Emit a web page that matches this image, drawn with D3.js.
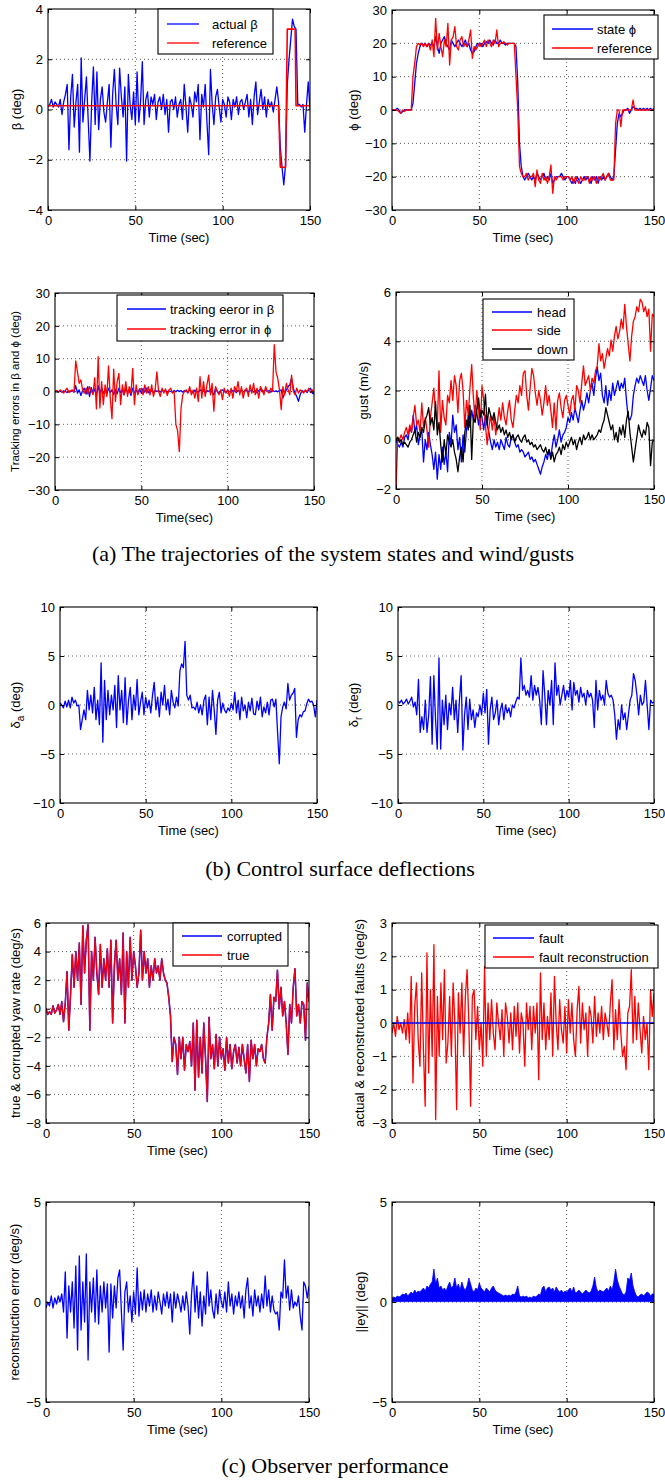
<!DOCTYPE html>
<html lang="en">
<head>
<meta charset="UTF-8">
<title>Observer performance figure</title>
<script src="https://cdn.jsdelivr.net/npm/d3@7"></script>
<style>
  body { margin: 0; background: #fff; }
  svg text { font-family: 'Liberation Sans', Arial, sans-serif; }
  .grid { stroke: #333; stroke-width: 0.8; stroke-dasharray: 1 3; }
  .caption { font-family: 'Liberation Serif', 'Times New Roman', serif !important; font-size: 22px; }
</style>
</head>
<body>
<svg></svg>
<script>
const width = 665, height = 1480;

// time axis is one sample per second, 0..150
const timeTicks = [0, 50, 100, 150];

// (a) sideslip beta
const betaActual = [0.1,0.2,0.4,0.1,0.3,0.2,0.1,0.4,-0.2,0.3,
  0.6,1.0,-1.6,0.5,1.4,-0.7,0.3,1.0,-1.7,2.05,
  -0.5,0.4,1.3,-0.4,-2.05,0.3,1.7,-0.6,1.5,-0.8,
  0.4,0.9,-0.1,-0.5,0.3,1.0,-1.5,0.6,1.6,0.2,
  -0.6,1.65,0.5,-0.3,0.9,-2.05,1.4,0.2,-0.4,0.7,
  -0.6,1.5,-0.5,0.3,1.9,-0.6,0.4,0.7,-0.3,0.5,
  0.2,0.6,-0.4,0.3,0.5,0.0,0.6,-0.2,0.4,-0.9,
  0.3,0.4,0.0,0.5,-0.3,0.2,0.4,-0.4,1.0,0.1,
  -0.9,0.5,0.2,-0.3,0.7,0.3,1.0,-1.2,0.6,0.1,
  1.0,-0.5,-1.8,1.6,0.2,-0.6,0.5,0.8,0.1,-0.5,
  0.4,0.2,-0.3,0.5,0.3,-0.4,0.4,0.1,0.5,-0.2,
  0.3,0.4,0.0,0.3,0.6,-0.3,0.4,-0.6,0.5,1.1,
  -0.2,0.3,0.8,0.0,0.5,-0.3,0.4,0.1,0.3,-0.1,
  0.4,0.9,0.3,-1.5,-2.3,-3.0,-2.2,1.0,2.0,2.8,
  3.6,3.3,3.2,0.2,0.2,0.1,0.2,-0.9,0.2,1.1,
  0.0];
const betaRefTimes = [0, 132, 133, 136, 137, 141.5, 142, 150];
const betaRefValues = [0.15, 0.15, -2.3, -2.3, 3.2, 3.2, 0.15, 0.15];

// (a) bank angle phi
const phiState = [0,0,0,0.5,0,-1,-0.5,0,0,0,
  0,0,2,8,14,17,19,20,19.5,20,
  19,20,19.5,20,19,22,19,17,20,21,
  22,20,19,18,21,20,19,20,21,20,
  19,20,21,19,20,18,17,17.5,19,20,
  19.5,20,19,20,20.5,20,21,20,19.5,21,
  20,20,21,20,20,19.5,20,20,20,20,
  20,19,8,-10,-17,-20,-21,-20,-19,-20,
  -21,-20,-21,-19,-20,-21,-20,-19,-21,-20,
  -21,-19,-22,-21,-20,-20,-20,-19,-20,-21,
  -20,-20,-21,-22,-21,-22,-20,-21,-22,-21,
  -20,-21,-20,-21,-22,-20,-21,-20,-22,-20,
  -21,-20,-21,-20,-19,-20,-21,-20,-12,-4,
  -1,-2,-1,0,0,0.5,-1,0,1,0.5,
  0.5,0,0.5,0,0.5,0,0.5,0,0.5,0,
  0.5];
const phiRef = [0,0,0,0,-0.5,-1,0,-0.5,0,0,
  0,0,10,14,19,20,19.5,20,19,20,
  19,20,18,21,16,27.5,18,23,19,16,
  21,19,26,13.5,21,22,25,19,18,21,
  22,19,20,19,21,24,15.5,19,18,19,
  20,19,20,21,19,21,20,19,21,20,
  24,19,20,20,20.5,20,19.5,20,20,20,
  20,10,0,-17,-19,-20,-20,-19,-21,-20,
  -20,-19,-23,-18,-21,-22,-19,-21,-20,-22,
  -20,-16.5,-25,-20,-21,-20,-20,-20,-21,-20,
  -20,-20,-21,-20,-22,-20,-21,-22,-20,-21,
  -21,-20,-20,-22,-20,-21,-20,-22,-20,-21,
  -20,-19,-21,-20,-19,-21,-21,-21,-4,0,
  0,-5,0,0,0,0,0,0,3,0,
  0,0,0,0,0,0,0,0,0,0,
  0];

// (a) tracking errors
const trackErrBeta = [0,0.2,-0.1,0.1,-0.2,0.2,0,-0.3,0.2,-0.1,
  0.3,-0.2,1.8,-0.5,0.5,-1.2,0.3,1.0,-0.8,1.5,
  -1.5,1.2,-0.5,0.8,-1.3,1.8,-0.7,1.0,-0.6,0.5,
  -0.8,1.0,-0.3,0.5,-0.9,0.6,-0.7,1.0,-0.4,0.5,
  -1.0,0.9,-0.3,0.4,-1.2,1.0,-0.5,0.3,-0.4,0.8,
  -0.5,0.9,-0.2,1.0,-0.4,0.5,0.2,-0.3,0.4,0,
  0.3,-0.2,0.4,0,0.3,-0.3,0.2,0,-0.2,0.3,
  -0.1,0.4,0,0.3,-0.2,0.3,0,-0.3,0.6,0,
  -0.5,0.4,0,-0.2,0.5,0.2,0.7,-0.7,0.3,0,
  0.6,-0.3,-1.0,1.0,0,-0.4,0.3,0.5,0,-0.3,
  0.3,0,-0.2,0.3,0.2,-0.3,0.3,0,0.3,-0.1,
  0.2,0.3,0,0.2,0.4,-0.2,0.3,-0.4,0.3,0.7,
  -0.1,0.2,0.5,0,0.3,-0.2,0.3,0,0.2,-0.1,
  0.3,0.5,-2.0,-0.5,0.5,1.5,2.0,4.0,1.0,-0.5,
  -1.5,-3.0,-1.0,0.3,0,0.2,-0.3,0.5,1.0,-0.5,
  -0.8];
const trackErrPhi = [0,0.3,-0.2,0.5,0,-0.5,0.3,1.0,-0.3,0.2,
  0.5,-0.2,9.3,6.0,2.5,3.5,0.5,-0.5,1.0,-0.8,
  1.5,0.2,-1.0,4.2,-5.3,10.6,-5.0,3.0,-4.0,2.0,
  -1.5,7.8,-2.0,-8.3,6.8,-3.0,3.0,5.5,-4.0,2.0,
  -1.0,3.0,-1.5,1.5,-0.5,7.0,-4.0,2.0,-1.0,0.5,
  1.0,-1.0,2.0,-0.5,1.5,-1.0,2.0,-1.5,0.5,6.0,
  0,-1.5,1.0,-0.5,0.8,-1.2,0.5,1.0,-0.5,0,
  -10,-12,-18.3,-5,-1,0,0.5,-0.5,1.5,-1.0,
  0.5,-2.0,1.0,-3.0,4.5,-2.0,3.0,-1.5,2.0,5.0,
  -1.0,2.5,-6.0,1.5,0,-1.0,0.5,-2.5,1.0,-0.5,
  0.5,-1.5,1.0,-2.0,1.5,0,3.0,-1.0,1.5,-2.0,
  0.5,1.0,-1.5,2.0,-0.5,2.5,-1.0,1.0,-2.0,1.5,
  0.5,-1.0,1.5,0,-0.5,1.0,0,14.3,6.0,4.0,
  0.5,-5.5,1.5,-1.0,2.5,0.5,-1.0,5.0,0,-1.0,
  1.0,-0.5,0.5,0,-0.5,0.5,0,1.0,-0.3,0.5,
  -0.5];

// (a) wind gusts
const gustHead = [0,-0.2,-0.3,-0.1,-0.3,0.1,0.2,0.0,0.5,0.3,
  1.0,0.3,0.6,-0.2,0.2,0.4,-0.9,0,-0.4,0.3,
  -0.2,-0.6,-1.2,-0.5,-1.6,-0.6,-1.2,-0.3,-1.0,-0.5,
  -1.3,0.3,-0.2,1.0,0.3,0.6,-0.4,0.1,-0.9,0.2,
  -0.5,0.4,1.0,0.5,1.2,0.8,1.4,1.1,0.6,1.2,
  0.9,0.4,1.0,0.6,0.3,-0.1,-0.4,0,-0.3,-0.1,
  -0.4,0,-0.2,-0.4,0.1,-0.2,-0.3,0.1,0.2,-0.1,
  -0.3,-0.2,-0.5,-0.4,-0.5,-0.7,-0.6,-0.5,-0.8,-0.7,
  -0.9,-0.8,-1.0,-1.2,-1.4,-1.1,-0.9,-0.6,-0.8,-0.4,
  -0.7,-0.2,0.2,-0.3,0,0.4,-0.1,0.2,0.3,0.5,
  0.9,0.7,1.1,0.8,1.3,1.0,0.7,1.2,1.6,1.2,
  1.5,1.9,1.5,2.0,2.3,1.8,2.5,2.95,2.4,2.7,
  1.8,1.5,2.2,1.4,2.0,1.6,2.3,1.8,2.1,2.4,
  2.0,2.3,2.1,2.5,1.6,0.9,0.8,1.0,1.8,2.2,
  2.5,2.3,2.6,2.4,2.2,2.6,2.0,1.6,2.1,2.6,
  2.4];
const gustSide = [-2,0.1,0,0.2,0,0.3,0.5,0.2,0.6,0.3,
  0.9,1.4,0.6,0.8,0.3,1.5,0.5,0.9,0.4,-0.3,
  0.9,1.5,2.1,1.1,0.5,2.8,0.3,1.6,0.9,0.6,
  1.8,1.5,2.4,1.6,2.6,2.2,1.1,2.4,2.7,2.0,
  0.5,1.6,1.0,2.1,3.05,1.7,0.8,2.0,1.2,0.4,
  2.2,1.6,0.6,-0.2,0.5,1.0,0.4,1.0,0.2,0.7,
  1.3,0.8,1.5,0.9,0.6,1.2,1.6,0.8,0.5,1.2,
  1.8,1.5,2.2,1.8,2.7,2.8,1.8,1.2,2.1,2.9,
  2.6,1.9,1.4,2.0,1.6,1.0,1.5,2.2,1.4,1.8,
  1.2,0.5,1.5,0.4,1.6,1.9,1.3,0.9,1.6,1.8,
  1.4,1.0,1.6,1.8,1.2,2.2,2.0,1.5,2.3,3.0,
  2.2,2.4,2.6,2.0,2.5,2.3,2.8,3.0,3.9,3.2,
  3.5,2.9,3.3,3.7,3.4,4.05,3.6,4.2,4.6,4.1,
  4.4,4.9,4.5,5.5,4.6,3.9,3.2,4.2,4.8,5.0,
  5.4,5.2,5.7,5.6,5.2,5.4,5.0,5.3,3.6,5.1,
  5.0];
const gustDown = [0,0.1,-0.1,0,-0.2,-0.1,-0.2,-0.3,-0.1,0,
  0.2,0.4,-0.1,0.3,0.1,0.5,0.3,0.8,1.0,1.3,
  0.6,0.9,0.4,1.55,0.2,0.7,-0.2,-0.9,0,-0.6,
  0.2,-0.1,-0.3,0,-0.5,-0.8,-1.3,-0.7,-0.3,-0.9,
  0.3,0.8,0.4,1.4,-0.8,0.9,0.7,1.2,1.7,0.9,
  1.2,1.0,1.85,0.6,1.3,1.0,0.8,1.1,0.7,0.4,
  0.6,0.3,0.5,0.2,0.4,0.1,0.3,0,0.2,-0.1,
  0.1,0.2,0,-0.1,0.1,0.2,-0.1,0,-0.2,-0.1,
  -0.3,-0.2,-0.4,-0.3,-0.2,-0.4,-0.5,-0.3,-0.6,-0.4,
  -0.8,-0.5,-0.9,-0.6,-0.5,-0.3,-0.6,-0.2,-0.4,-0.1,
  -0.3,-0.1,0.1,-0.2,0,-0.4,-0.1,0.1,-0.2,0.2,
  0,0.1,0.3,0,0.2,0,0.1,0.2,0.4,0.3,
  0.6,0.8,1.3,1.0,0.7,0.4,0.6,0,0.3,-0.1,
  0.5,0.2,0.6,0.1,0.8,1.15,0.3,-0.3,-0.9,-0.4,
  0.1,0.6,0.3,0.1,0.4,0.2,0.7,0.5,-1.05,-0.1,
  0];

// (b) control surface deflections
const deltaA = [0.2,0,-0.3,0.4,-0.2,0.5,-0.3,0.8,0.2,0.5,
  -0.1,0,-2.5,-1.5,-0.5,-1.5,1.5,-0.5,1.0,-0.8,
  1.8,-1.5,0.5,-2.0,4.3,-3.8,2.5,-1.5,1.5,-1.0,
  1.0,-0.5,2.0,-2.3,3.0,-0.5,1.5,-1.8,2.8,-2.0,
  0.5,1.8,-1.5,1.0,-0.5,2.6,-1.0,0.3,1.3,-1.0,
  0.8,-0.3,0.5,-0.8,1.0,2.3,-0.5,0.8,-1.2,1.3,
  0,2.0,-0.5,0.6,-1.0,1.5,0.3,-0.3,0.8,-0.1,
  3.5,4.2,3.8,6.5,1.0,0.5,1.0,-0.3,-0.2,-0.5,
  0.3,-0.8,0,-1.0,0.5,1.0,-2.0,0.8,-1.5,1.5,
  -0.5,-3.0,0.5,1.3,-0.8,0.2,-0.5,-0.8,-0.3,-0.6,
  0.2,-0.5,1.3,-0.8,0.5,-1.5,0.8,-0.6,0,-1.3,
  0.3,-0.6,0.7,-0.9,-1.0,0.4,-0.5,0.8,-1.2,-0.2,
  -0.8,0.3,-1.0,0.5,0.6,-0.2,0.6,-2.8,-6.0,-1.2,
  -0.2,0.3,-0.4,2.2,0.5,1.0,1.2,1.7,-3.3,-1.5,
  -1.0,-1.2,-0.7,-0.6,0.1,0.6,0.3,0.4,0,-1.2,
  0.5];
const deltaR = [0.4,0.2,0.5,0.1,0.3,0.6,0.1,0.4,0.8,-0.2,
  0.3,-1.0,2.6,-2.8,-1.2,-2.5,0.5,-2.8,-1.0,2.9,
  -4.0,3.0,-1.5,-4.5,4.8,-4.5,0.5,-2.0,1.0,-2.5,
  0.2,-1.0,1.8,-1.5,0.5,-2.8,0.5,3.0,-4.6,-1.0,
  0.8,-2.5,0.6,-1.5,-0.5,-2.3,-0.8,-1.2,0,-1.0,
  1.2,-0.8,1.6,-4.0,-0.5,0.8,-1.5,-0.8,0.5,-2.0,
  -0.5,0.2,-1.5,0,-0.8,-0.3,-1.2,0,-0.3,0.3,
  0.8,0.6,4.8,1.5,2.0,1.0,1.5,0.8,3.0,0.5,
  2.0,1.0,1.8,0.5,-2.0,3.5,1.0,-2.0,1.5,0,
  2.5,-2.0,4.3,1.0,2.0,0,1.0,2.0,0.5,1.5,
  0.8,2.5,-0.5,2.3,1.0,1.5,0.3,1.8,0.8,1.2,
  0,1.5,0.8,1.2,0.5,-2.3,2.5,-0.5,1.5,0.5,
  1.0,0,2.5,1.2,0.8,1.0,0.5,-1.0,-3.5,-1.5,
  -2.5,0,-1.5,-0.8,-2.5,-1.0,0.5,1.0,3.2,2.5,
  1.0,-1.0,1.0,0,0.3,2.5,0,-2.5,0.5,0.2,
  0.3];

// (c) yaw rate (corrupted and true overlap: sensor fault is zero)
const yawTrue = [0,-0.4,-0.2,-0.4,0.2,-0.3,-0.1,0.3,-0.4,0.5,
  -0.9,0.4,2.6,-1.5,1.0,3.8,1.5,4.0,2.0,4.6,
  0.3,5.8,2.5,4.8,5.9,-1.5,4.0,2.0,5.0,2.5,
  1.0,4.5,1.5,3.5,2.0,4.2,1.5,4.8,-1.0,3.0,
  4.8,2.0,3.5,1.0,5.3,-1.0,4.0,1.5,5.0,2.0,
  4.0,3.0,1.5,2.5,5.5,2.0,4.0,2.5,3.5,1.5,
  3.0,2.0,3.5,2.5,3.0,2.0,3.5,2.5,2.0,1.8,
  0.8,-0.5,-3.7,-2.0,-2.5,-4.6,-2.0,-3.5,-2.0,-4.3,
  -2.5,-3.0,-2.3,-4.0,-1.0,-5.7,-0.8,-4.8,-2.0,-4.5,
  -1.0,-3.5,-6.5,-0.6,-3.5,-2.5,-4.2,-1.8,-4.0,-2.0,
  -3.5,-2.8,-4.3,-2.0,-3.8,-2.5,-4.2,-3.0,-2.5,-3.8,
  -2.7,-4.0,-2.5,-3.5,-4.5,-2.5,-5.1,-2.2,-3.5,-2.5,
  -4.0,-2.8,-3.0,-2.5,-3.5,-3.8,-2.0,-1.0,1.0,-1.5,
  0.8,0.5,2.7,0,1.5,-0.5,0.5,-1.0,-3.2,0.3,
  -1.0,1.5,2.8,-0.5,0.3,-1.0,0.5,0.3,-2.2,1.8,
  0.5];
const yawCorrupted = yawTrue;

// (c) fault and its reconstruction
const faultTimes = [0, 150];
const faultValues = [0, 0];
const faultRecon = [-0.3,0,-0.4,0.2,-0.2,0,-0.3,0.1,-0.5,0.3,
  -0.6,1.4,-1.8,0.5,1.2,-0.5,-1.3,1.5,-0.8,-2.5,
  2.1,-1.5,1.0,-1.0,2.35,-2.9,0.8,-1.0,1.2,-0.5,
  1.6,-1.2,-0.6,0.8,-1.0,1.2,0,-2.6,0.9,-0.3,
  1.2,-1.0,0.8,1.6,0,-2.5,0.8,1.0,-0.5,0.5,
  -0.8,0,-1.3,1.7,-1.0,0.6,-0.5,0.7,-0.3,-0.8,
  0.6,0,-0.5,0.4,-1.0,0.6,0.2,-0.6,0.3,-0.8,
  0.5,-0.4,0.6,-0.9,0.3,0,-1.3,0.6,-0.2,0.5,
  -0.8,0.5,-0.3,0.6,-1.7,1.5,-0.5,0.6,-0.8,0.2,
  -0.5,0.9,-1.0,1.4,0,-0.8,0.7,-0.2,-0.6,0.5,
  -0.9,0.7,-0.3,0.6,-0.5,-1.0,0.4,1.1,-0.6,0.6,
  -0.2,0.3,-1.0,0.5,0.2,-0.6,0.8,-0.4,0.3,-0.3,
  0.5,-0.5,0.3,0,-0.4,0.6,1.3,-0.8,0.4,-0.5,
  0.7,-0.3,-1.0,-0.7,-1.4,0.3,0.5,1.6,-0.6,0.8,
  -0.5,0.6,-0.2,-0.9,0.2,-0.5,0,-1.4,1.0,0.2,
  0.9];

// (c) reconstruction error
const reconError = [-0.3,0,-0.2,0.3,-0.3,0.2,-0.1,0.3,0,0.4,
  -0.5,1.5,-1.8,0.8,-0.5,1.0,-1.3,1.8,-2.4,2.3,
  -1.4,1.0,-1.0,2.4,-2.9,1.0,-0.5,1.2,-1.0,1.6,
  -1.1,0.8,-0.5,1.0,-0.3,0.9,-2.5,0.9,-0.8,0.8,
  -0.3,1.2,1.6,-0.5,-2.4,0.5,1.0,-0.5,0.3,-1.0,
  0.5,-0.6,1.7,-0.7,0.5,-0.4,0.6,-0.5,0.4,-0.2,
  0.6,-0.5,0.3,-0.4,0.5,0,-0.6,0.4,-0.2,0.5,
  -0.3,0.4,-1.0,0.5,-0.3,0.4,0,-0.5,0.3,-0.4,
  0.5,-0.2,-1.6,0.4,1.5,-0.5,0.8,-0.8,0.5,-1.2,
  0.3,-0.6,1.5,-0.2,0.6,-0.4,-0.8,0.4,-0.6,0.6,
  0,-0.3,0.5,-0.5,1.0,-0.2,0.4,-0.6,0.3,-0.2,
  0.5,-0.3,0.3,-0.8,0.6,1.2,-0.3,0.3,-0.7,0.6,
  -0.2,0.3,-0.5,0.4,-0.3,1.3,-0.2,0.6,-0.5,0.3,
  -0.4,-0.6,-0.5,-1.4,0.5,0.2,2.1,0.2,0.8,-0.4,
  0.6,-0.3,0,-0.2,0.3,-0.7,-1.4,1.0,0.8,0.2,
  0.8];

// (c) ||ey|| upper envelope of the dense trace
const eyNorm = [0.2,0.25,0.2,0.3,0.25,0.3,0.4,0.35,0.45,0.3,
  0.4,0.5,0.4,0.6,0.45,0.55,0.5,0.6,0.7,0.55,
  0.8,0.7,0.9,1.0,1.65,0.9,1.2,0.7,0.8,0.6,
  0.7,0.55,0.8,1.0,0.7,0.8,1.2,0.7,0.9,0.6,
  1.0,0.7,0.6,0.8,1.2,0.9,0.6,0.5,0.7,0.6,
  0.95,0.7,0.6,0.5,0.7,0.6,0.5,0.7,0.8,0.6,
  0.5,0.45,0.4,0.35,0.3,0.35,0.3,0.35,0.3,0.4,
  0.35,0.5,0.8,0.3,0.25,0.3,0.25,0.3,0.2,0.25,
  0.2,0.3,0.25,0.3,0.4,0.35,0.7,0.8,0.5,0.7,
  0.75,0.6,0.7,0.5,0.75,0.6,0.5,0.6,0.45,0.55,
  0.5,0.6,0.7,0.5,0.75,0.45,0.5,0.6,0.5,0.4,
  0.5,0.6,0.5,0.45,0.55,0.8,1.25,0.7,0.5,0.6,
  0.55,0.5,0.6,0.7,0.55,0.8,0.6,1.0,1.65,1.1,
  0.8,0.6,0.4,0.35,0.5,1.2,1.1,1.45,0.8,0.5,
  0.3,0.25,0.35,0.4,0.3,0.4,0.5,0.45,0.3,0.4,
  0.4];

const captions = [
  { text: '(a) The trajectories of the system states and wind/gusts', x: 333, y: 561 },
  { text: '(b) Control surface deflections', x: 340, y: 876 },
  { text: '(c) Observer performance', x: 335, y: 1473 }
];

// panel layout: box = [left, right, top, bottom] in pixels
const panels = [
  { box: [48, 310, 9, 210], yDomain: [-4, 4], yTicks: [-4, -2, 0, 2, 4], yLabel: ['β (deg)'], yLabelX: 16,
    xLabel: 'Time (sec)',
    series: [{ values: betaActual, color: '#0000ff' }, { times: betaRefTimes, values: betaRefValues, color: '#ff0000', w: 1.6 }],
    legend: { box: [158, 273, 9, 54], rows: [24, 43], line: [167, 199], tx: 212,
      items: [['actual β', '#0000ff'], ['reference', '#ff0000']] } },
  { box: [392, 654, 10, 210], yDomain: [-30, 30], yTicks: [-30, -20, -10, 0, 10, 20, 30], yLabel: ['ϕ (deg)'], yLabelX: 353,
    xLabel: 'Time (sec)',
    series: [{ values: phiState, color: '#0000ff' }, { values: phiRef, color: '#ff0000' }],
    legend: { box: [544, 658, 15, 59], rows: [29, 48], line: [552, 593], tx: 597,
      items: [['state ϕ', '#0000ff'], ['reference', '#ff0000']] } },
  { box: [55, 314, 293, 490], yDomain: [-30, 30], yTicks: [-30, -20, -10, 0, 10, 20, 30],
    yLabel: ['Tracking errors in β and ϕ (deg)'], yLabelX: 15, yLabelSize: 11.5, xLabel: 'Time(sec)',
    series: [{ values: trackErrBeta, color: '#0000ff' }, { values: trackErrPhi, color: '#ff0000' }],
    legend: { box: [117, 283, 295, 341], rows: [309, 329], line: [127, 166], tx: 170,
      items: [['tracking eeror in β', '#0000ff'], ['tracking error in ϕ', '#ff0000']] } },
  { box: [396, 654, 292, 489], yDomain: [-2, 6], yTicks: [-2, 0, 2, 4, 6], yLabel: ['gust (m/s)'], yLabelX: 363,
    xLabel: 'Time (sec)',
    series: [{ values: gustHead, color: '#0000ff' }, { values: gustSide, color: '#ff0000' }, { values: gustDown, color: '#000000' }],
    legend: { box: [483, 574, 299, 360], rows: [312, 330, 349], line: [492, 532], tx: 537,
      items: [['head', '#0000ff'], ['side', '#ff0000'], ['down', '#000000']] } },
  { box: [60, 317, 607, 803], yDomain: [-10, 10], yTicks: [-10, -5, 0, 5, 10], yLabel: ['δ', 'a', ' (deg)'], yLabelX: 15,
    xLabel: 'Time (sec)', series: [{ values: deltaA, color: '#0000ff' }] },
  { box: [398, 654, 607, 803], yDomain: [-10, 10], yTicks: [-10, -5, 0, 5, 10], yLabel: ['δ', 'r', ' (deg)'], yLabelX: 353,
    xLabel: 'Time (sec)', series: [{ values: deltaR, color: '#0000ff' }] },
  { box: [46, 309, 923, 1123], yDomain: [-8, 6], yTicks: [-8, -6, -4, -2, 0, 2, 4, 6],
    yLabel: ['true & corrupted yaw rate (deg/s)'], yLabelX: 15, xLabel: 'Time (sec)',
    series: [{ values: yawCorrupted, color: '#0000ff', w: 1.5 }, { values: yawTrue, color: '#ff0000', opacity: 0.93 }],
    legend: { box: [173, 288, 923, 966], rows: [936, 955], line: [182, 222], tx: 227,
      items: [['corrupted', '#0000ff'], ['true', '#ff0000']] } },
  { box: [392, 654, 923, 1123], yDomain: [-3, 3], yTicks: [-3, -2, -1, 0, 1, 2, 3],
    yLabel: ['actual & reconstructed faults (deg/s)'], yLabelX: 359, xLabel: 'Time (sec)',
    series: [{ values: faultRecon, color: '#ff0000' }, { times: faultTimes, values: faultValues, color: '#0000ff' }],
    legend: { box: [485, 658, 925, 968], rows: [938, 957], line: [493, 534], tx: 539,
      items: [['fault', '#0000ff'], ['fault reconstruction', '#ff0000']] } },
  { box: [46, 309, 1202, 1402], yDomain: [-5, 5], yTicks: [-5, 0, 5], yLabel: ['reconstruction error (deg/s)'], yLabelX: 14,
    xLabel: 'Time (sec)', series: [{ values: reconError, color: '#0000ff' }] },
  { box: [392, 654, 1202, 1402], yDomain: [-5, 5], yTicks: [-5, 0, 5], yLabel: ['||ey|| (deg)'], yLabelX: 360,
    xLabel: 'Time (sec)', series: [{ values: eyNorm, color: '#0000ff', area: true }] }
];

const svg = d3.select('svg').attr('width', width).attr('height', height);
const defs = svg.append('defs');
const fmt = d3.format('d');

function drawPanel(p, idx) {
  const [l, r, t, b] = p.box;
  const x = d3.scaleLinear().domain([0, 150]).range([l, r]);
  const y = d3.scaleLinear().domain(p.yDomain).range([b, t]);
  const g = svg.append('g');

  defs.append('clipPath').attr('id', 'clip' + idx)
    .append('rect').attr('x', l).attr('y', t).attr('width', r - l).attr('height', b - t);

  // dotted grid at the inner ticks
  g.append('g').selectAll('line').data(timeTicks.slice(1, -1)).join('line')
    .attr('class', 'grid')
    .attr('x1', d => x(d)).attr('x2', d => x(d)).attr('y1', t).attr('y2', b);
  g.append('g').selectAll('line').data(p.yTicks.slice(1, -1)).join('line')
    .attr('class', 'grid')
    .attr('x1', l).attr('x2', r).attr('y1', d => y(d)).attr('y2', d => y(d));

  // data
  const plot = g.append('g').attr('clip-path', `url(#clip${idx})`);
  p.series.forEach(s => {
    const pts = s.values.map((v, i) => [s.times ? s.times[i] : i, v]);
    if (s.area) {
      plot.append('path').datum(pts)
        .attr('fill', s.color).attr('stroke', s.color).attr('stroke-width', 0.8)
        .attr('d', d3.area().x(d => x(d[0])).y0(y(0.02)).y1(d => y(d[1])));
    } else {
      plot.append('path').datum(pts)
        .attr('fill', 'none').attr('stroke', s.color)
        .attr('stroke-width', s.w || 1.3).attr('stroke-opacity', s.opacity || 1)
        .attr('stroke-linejoin', 'round')
        .attr('d', d3.line().x(d => x(d[0])).y(d => y(d[1])));
    }
  });

  // axes, ticks pointing inward on all four sides
  g.append('g').attr('transform', `translate(0,${b})`)
    .call(d3.axisBottom(x).tickValues(timeTicks).tickFormat(fmt).tickSize(-4).tickPadding(6));
  g.append('g').attr('transform', `translate(${l},0)`)
    .call(d3.axisLeft(y).tickValues(p.yTicks).tickFormat(fmt).tickSize(-4).tickPadding(5));
  g.append('g').attr('transform', `translate(0,${t})`)
    .call(d3.axisTop(x).tickValues(timeTicks).tickSize(-4).tickFormat(''));
  g.append('g').attr('transform', `translate(${r},0)`)
    .call(d3.axisRight(y).tickValues(p.yTicks).tickSize(-4).tickFormat(''));
  g.selectAll('.domain').remove();
  g.selectAll('.tick line').attr('stroke', '#000');
  g.selectAll('.tick text').attr('fill', '#000').attr('font-size', 13)
    .attr('font-family', "'Liberation Sans', Arial, sans-serif");

  g.append('rect').attr('x', l).attr('y', t).attr('width', r - l).attr('height', b - t)
    .attr('fill', 'none').attr('stroke', '#000').attr('stroke-width', 1.1);

  // axis labels
  g.append('text').attr('x', (l + r) / 2).attr('y', b + 32)
    .attr('text-anchor', 'middle').attr('font-size', 13).text(p.xLabel);

  const yl = g.append('text')
    .attr('transform', `translate(${p.yLabelX},${(t + b) / 2}) rotate(-90)`)
    .attr('text-anchor', 'middle').attr('dy', '0.35em').attr('font-size', p.yLabelSize || 13);
  if (p.yLabel.length === 1) {
    yl.text(p.yLabel[0]);
  } else {
    yl.append('tspan').text(p.yLabel[0]);
    yl.append('tspan').attr('dy', 4).attr('font-size', 10).text(p.yLabel[1]);
    yl.append('tspan').attr('dy', -4).text(p.yLabel[2]);
  }

  // legend
  if (p.legend) {
    const lg = p.legend;
    const leg = g.append('g');
    leg.append('rect').attr('x', lg.box[0]).attr('y', lg.box[2])
      .attr('width', lg.box[1] - lg.box[0]).attr('height', lg.box[3] - lg.box[2])
      .attr('fill', '#fff').attr('stroke', '#000').attr('stroke-width', 1.1);
    lg.items.forEach((it, i) => {
      leg.append('line').attr('x1', lg.line[0]).attr('x2', lg.line[1])
        .attr('y1', lg.rows[i]).attr('y2', lg.rows[i])
        .attr('stroke', it[1]).attr('stroke-width', 1.3);
      leg.append('text').attr('x', lg.tx).attr('y', lg.rows[i]).attr('dy', '0.35em')
        .attr('font-size', 13).text(it[0]);
    });
  }
}

panels.forEach(drawPanel);

svg.selectAll('.caption').data(captions).join('text')
  .attr('class', 'caption')
  .attr('x', d => d.x).attr('y', d => d.y)
  .attr('text-anchor', 'middle')
  .text(d => d.text);
</script>
</body>
</html>
